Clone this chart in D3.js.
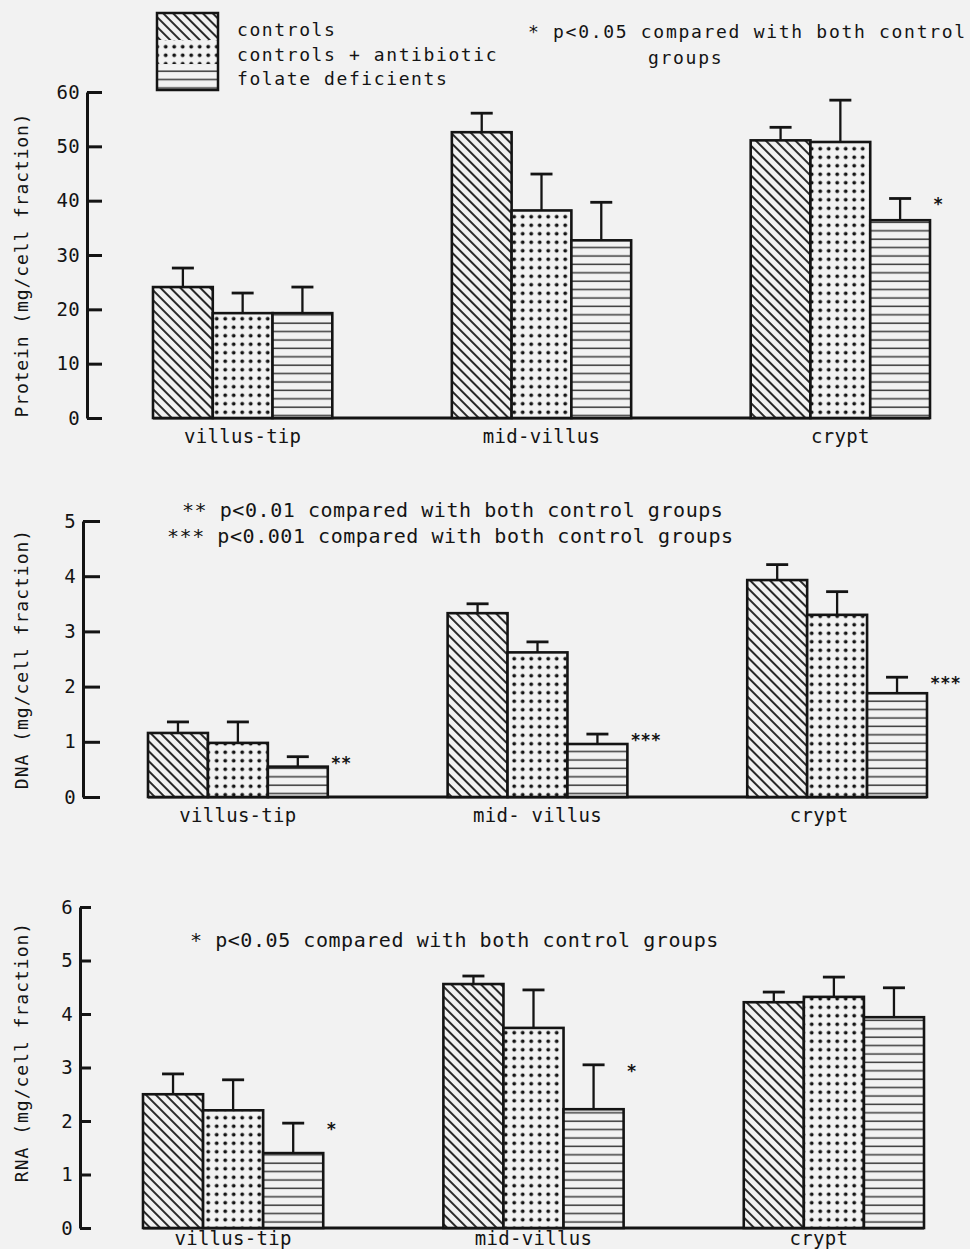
<!DOCTYPE html>
<html><head><meta charset="utf-8">
<script src="https://cdn.jsdelivr.net/npm/d3@7"></script>
<style>body{margin:0;background:#f2f2f2} svg{display:block}</style>
</head><body><svg id="c" width="970" height="1249"></svg>
<script>
// ---------- data ----------
const categories = ["villus-tip", "mid-villus", "crypt"];
const categoryLabelsDNA = ["villus-tip", "mid- villus", "crypt"];
const groups = ["controls", "controls + antibiotic", "folate deficients"];

const proteinControls = [24.1, 52.6, 51.1];
const proteinControlsErr = [3.5, 3.5, 2.4];
const proteinAntibiotic = [19.3, 38.2, 50.8];
const proteinAntibioticErr = [3.7, 6.7, 7.7];
const proteinFolate = [19.3, 32.7, 36.4];
const proteinFolateErr = [4.8, 7.0, 4.0];
const proteinStars = ["", "", "*"];
const proteinTicks = [0, 10, 20, 30, 40, 50, 60];

const dnaControls = [1.16, 3.33, 3.93];
const dnaControlsErr = [0.20, 0.17, 0.28];
const dnaAntibiotic = [0.98, 2.62, 3.30];
const dnaAntibioticErr = [0.38, 0.19, 0.42];
const dnaFolate = [0.55, 0.96, 1.88];
const dnaFolateErr = [0.18, 0.18, 0.29];
const dnaStars = ["**", "***", "***"];
const dnaTicks = [0, 1, 2, 3, 4, 5];

const rnaControls = [2.50, 4.56, 4.22];
const rnaControlsErr = [0.38, 0.15, 0.19];
const rnaAntibiotic = [2.20, 3.74, 4.32];
const rnaAntibioticErr = [0.57, 0.71, 0.37];
const rnaFolate = [1.40, 2.22, 3.94];
const rnaFolateErr = [0.56, 0.83, 0.55];
const rnaStars = ["*", "*", ""];
const rnaTicks = [0, 1, 2, 3, 4, 5, 6];

const noteProtein = ["* p<0.05 compared with both control", "groups"];
const noteDNA = ["** p<0.01 compared with both control groups", "*** p<0.001 compared with both control groups"];
const noteRNA = ["* p<0.05 compared with both control groups"];

// ---------- drawing ----------
const BG = "#f2f2f2";
const INK = "#141414";
const FONT = "'DejaVu Sans Mono', monospace";
const svg = d3.select("#c");
svg.append("rect").attr("width", 970).attr("height", 1249).attr("fill", BG);

const defs = svg.append("defs");
// hatch "\\"
const ph = defs.append("pattern").attr("id", "pat0").attr("patternUnits", "userSpaceOnUse")
  .attr("width", 7).attr("height", 7).attr("patternTransform", "rotate(-45)");
ph.append("rect").attr("width", 7).attr("height", 7).attr("fill", BG);
ph.append("line").attr("x1", 1).attr("y1", -1).attr("x2", 1).attr("y2", 8).attr("stroke", INK).attr("stroke-width", 1.8);
// dots
const pd = defs.append("pattern").attr("id", "pat1").attr("patternUnits", "userSpaceOnUse")
  .attr("width", 8.5).attr("height", 8.5);
pd.append("rect").attr("width", 8.5).attr("height", 8.5).attr("fill", BG);
pd.append("circle").attr("cx", 4.2).attr("cy", 4.2).attr("r", 1.9).attr("fill", INK);
// horizontal lines
const pl = defs.append("pattern").attr("id", "pat2").attr("patternUnits", "userSpaceOnUse")
  .attr("width", 10).attr("height", 8.4);
pl.append("rect").attr("width", 10).attr("height", 8.4).attr("fill", BG);
pl.append("line").attr("x1", -1).attr("y1", 4).attr("x2", 11).attr("y2", 4).attr("stroke", "#3a3a3a").attr("stroke-width", 1.5);

const patterns = ["url(#pat0)", "url(#pat1)", "url(#pat2)"];

// legend
const legY = [13, 40, 64, 90];
groups.forEach((gname, i) => {
  svg.append("rect").attr("x", 157).attr("y", legY[i]).attr("width", 61)
    .attr("height", legY[i + 1] - legY[i]).attr("fill", patterns[i]);
});
svg.append("rect").attr("x", 157).attr("y", 13).attr("width", 61).attr("height", 77)
  .attr("fill", "none").attr("stroke", INK).attr("stroke-width", 2.5);
const legBase = [36, 61, 85];
groups.forEach((gname, i) => {
  svg.append("text").attr("x", 237).attr("y", legBase[i]).text(gname)
    .attr("font-family", FONT).attr("font-size", 18).attr("letter-spacing", 1.6).attr("fill", INK);
});

function drawPanel(cfg) {
  const g = svg.append("g");
  const y = d3.scaleLinear().domain([0, cfg.max]).range([cfg.y0, cfg.yTop]);
  const x0 = d3.scaleBand().domain(categories).range([cfg.xl, cfg.xr]).paddingInner(0.4).paddingOuter(0);
  const x1 = d3.scaleBand().domain(groups).range([0, x0.bandwidth()]).padding(0);

  // axis
  const ax = d3.axisLeft(y).tickValues(cfg.ticks).tickSizeInner(-cfg.tick).tickSizeOuter(0)
    .tickPadding(7).tickFormat(d3.format("d"));
  const ag = g.append("g").attr("transform", `translate(${cfg.axisX},0)`).call(ax);
  ag.select(".domain").attr("stroke", INK).attr("stroke-width", 3);
  ag.selectAll(".tick line").attr("stroke", INK).attr("stroke-width", 3);
  ag.selectAll(".tick text").attr("font-family", FONT).attr("font-size", 19)
    .attr("letter-spacing", 0.3).attr("fill", INK);

  // y title
  g.append("text").attr("transform", `translate(${cfg.titleX},${cfg.titleY}) rotate(-90)`)
    .attr("text-anchor", "middle").attr("font-family", FONT).attr("font-size", 18)
    .attr("letter-spacing", cfg.titleSpacing).attr("fill", INK).text(cfg.title);

  // baseline
  g.append("line").attr("x1", cfg.xl).attr("x2", cfg.xr).attr("y1", y(0)).attr("y2", y(0))
    .attr("stroke", INK).attr("stroke-width", 3);

  // bars
  cfg.series.forEach((s, j) => {
    categories.forEach((c, i) => {
      const bx = x0(c) + x1(groups[j]);
      const bw = x1.bandwidth();
      g.append("rect").attr("x", bx).attr("y", y(s.vals[i])).attr("width", bw)
        .attr("height", y(0) - y(s.vals[i])).attr("fill", patterns[j])
        .attr("stroke", INK).attr("stroke-width", 2.6);
    });
  });
  // error bars + stars
  cfg.series.forEach((s, j) => {
    categories.forEach((c, i) => {
      const bx = x0(c) + x1(groups[j]);
      const bw = x1.bandwidth();
      const cx = bx + bw / 2;
      const top = y(s.vals[i] + s.err[i]);
      g.append("line").attr("x1", cx).attr("x2", cx).attr("y1", y(s.vals[i])).attr("y2", top)
        .attr("stroke", INK).attr("stroke-width", 2.3);
      g.append("line").attr("x1", cx - 11).attr("x2", cx + 11).attr("y1", top).attr("y2", top)
        .attr("stroke", INK).attr("stroke-width", 2.8);
      if (j === 2 && cfg.stars[i]) {
        g.append("text").attr("x", bx + bw + 3).attr("y", top + 12).text(cfg.stars[i])
          .attr("font-family", FONT).attr("font-size", 17).attr("font-weight", "bold").attr("fill", INK);
      }
    });
  });

  // category labels
  categories.forEach((c, i) => {
    g.append("text").attr("x", x0(c) + x0.bandwidth() / 2 + (i === 2 ? cfg.cryptShift : 0)).attr("y", cfg.labelY)
      .attr("text-anchor", "middle").attr("font-family", FONT).attr("font-size", 19)
      .attr("letter-spacing", 0.3).attr("fill", INK).text(cfg.labels[i]);
  });

  // notes
  cfg.notes.forEach(n => {
    g.append("text").attr("x", n.x).attr("y", n.y).text(n.t)
      .attr("font-family", FONT).attr("font-size", n.size).attr("letter-spacing", n.ls).attr("fill", INK);
  });
}

drawPanel({
  max: 60, y0: 418, yTop: 92, xl: 153, xr: 930, axisX: 87, tick: 15, ticks: proteinTicks,
  title: "Protein (mg/cell fraction)", titleX: 28, titleY: 265, titleSpacing: 0.9,
  labels: categories, labelY: 443, cryptShift: 0,
  series: [
    {vals: proteinControls, err: proteinControlsErr},
    {vals: proteinAntibiotic, err: proteinAntibioticErr},
    {vals: proteinFolate, err: proteinFolateErr}],
  stars: proteinStars,
  notes: [
    {t: noteProtein[0], x: 528, y: 38, size: 18, ls: 1.7},
    {t: noteProtein[1], x: 648, y: 64, size: 18, ls: 1.7}]
});

drawPanel({
  max: 5, y0: 797, yTop: 521, xl: 148, xr: 927, axisX: 83, tick: 17, ticks: dnaTicks,
  title: "DNA (mg/cell fraction)", titleX: 28, titleY: 659, titleSpacing: 1.0,
  labels: categoryLabelsDNA, labelY: 822, cryptShift: -18,
  series: [
    {vals: dnaControls, err: dnaControlsErr},
    {vals: dnaAntibiotic, err: dnaAntibioticErr},
    {vals: dnaFolate, err: dnaFolateErr}],
  stars: dnaStars,
  notes: [
    {t: noteDNA[0], x: 182, y: 517, size: 20, ls: 0.55},
    {t: noteDNA[1], x: 167, y: 543, size: 20, ls: 0.55}]
});

drawPanel({
  max: 6, y0: 1228, yTop: 907, xl: 143, xr: 924, axisX: 80, tick: 11, ticks: rnaTicks,
  title: "RNA (mg/cell fraction)", titleX: 28, titleY: 1052, titleSpacing: 1.0,
  labels: categories, labelY: 1245, cryptShift: -15,
  series: [
    {vals: rnaControls, err: rnaControlsErr},
    {vals: rnaAntibiotic, err: rnaAntibioticErr},
    {vals: rnaFolate, err: rnaFolateErr}],
  stars: rnaStars,
  notes: [
    {t: noteRNA[0], x: 190, y: 947, size: 20, ls: 0.55}]
});
</script>
</body></html>
